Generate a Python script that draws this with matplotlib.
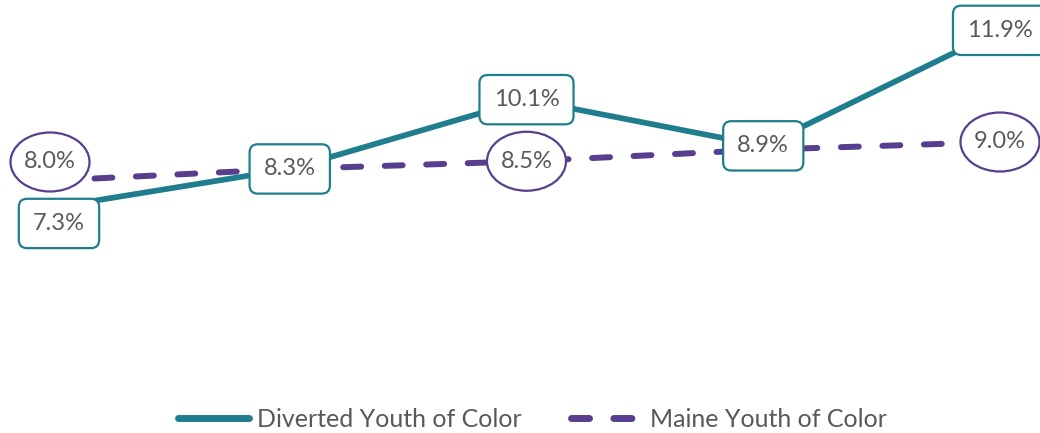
import matplotlib
matplotlib.use("Agg")
import matplotlib.pyplot as plt
from matplotlib.lines import Line2D
from matplotlib.patches import Ellipse
from matplotlib.transforms import ScaledTranslation

categories = ["1", "2", "3", "4", "5"]
diverted = [7.3, 8.3, 10.1, 8.9, 11.9]
maine = [8.0, 8.3, 8.5, 8.8, 9.0]
maine_labels = {0: "8.0%", 2: "8.5%", 4: "9.0%"}
diverted_labels = ["7.3%", "8.3%", "10.1%", "8.9%", "11.9%"]
series_names = ["Diverted Youth of Color", "Maine Youth of Color"]

TEAL = "#1F7D8E"
PURPLE = "#573E8E"
TXT = "#595959"
FONT = "Lato"
DPI = 100

fig = plt.figure(figsize=(10.4, 4.33), dpi=DPI)
ax = fig.add_axes([0, 0, 1, 1])
ax.axis("off")

x = list(range(len(categories)))
ax.set_xlim(-53 / 236.75, (1040 - 53) / 236.75)
ax.set_ylim((488.5 - 433) / 38.5, 488.5 / 38.5)

ax.plot(x, maine, color=PURPLE, lw=4.3, dashes=(3.0, 3.95),
        dash_capstyle="round", zorder=2)
ax.plot(x, diverted, color=TEAL, lw=4.1, solid_capstyle="round", zorder=3)

for i, (v, lab) in enumerate(zip(diverted, diverted_labels)):
    dy = -16 if i == 0 else 0
    ax.annotate(lab, (x[i], v), xytext=(6 if i == 0 else 0, dy), textcoords="offset pixels",
                ha="center", va="center", fontsize=17, color=TXT, family=FONT,
                bbox=dict(boxstyle="round,pad=0.6,rounding_size=0.35", fc="white",
                          ec=TEAL, lw=1.6), zorder=5, annotation_clip=False)

for i, lab in maine_labels.items():
    dy = 18.5 if i == 0 else 0
    dx = -3 if i == 0 else 0
    trans = fig.dpi_scale_trans + ScaledTranslation(x[i], maine[i], ax.transData)
    ell = Ellipse((dx / DPI, dy / DPI), 0.79, 0.59, transform=trans,
                  fc="white", ec=PURPLE, lw=1.6, zorder=5, clip_on=False)
    ax.add_patch(ell)
    ax.annotate(lab, (x[i], maine[i]), xytext=(dx, dy), textcoords="offset pixels",
                ha="center", va="center", fontsize=17, color=TXT, family=FONT,
                zorder=6, annotation_clip=False)

handles = [Line2D([], [], color=TEAL, lw=5, solid_capstyle="round"),
           Line2D([], [], color=PURPLE, lw=5, dashes=(2.6, 3.5), dash_capstyle="round")]
fig.legend(handles, series_names, loc="center", bbox_to_anchor=(0.512, 0.032),
           ncol=2, frameon=False, handlelength=2.85, handletextpad=0.3,
           columnspacing=2.0, prop=dict(family=FONT, size=18))
for t in fig.legends[0].get_texts():
    t.set_color(TXT)

fig.savefig("out.png", dpi=DPI)
